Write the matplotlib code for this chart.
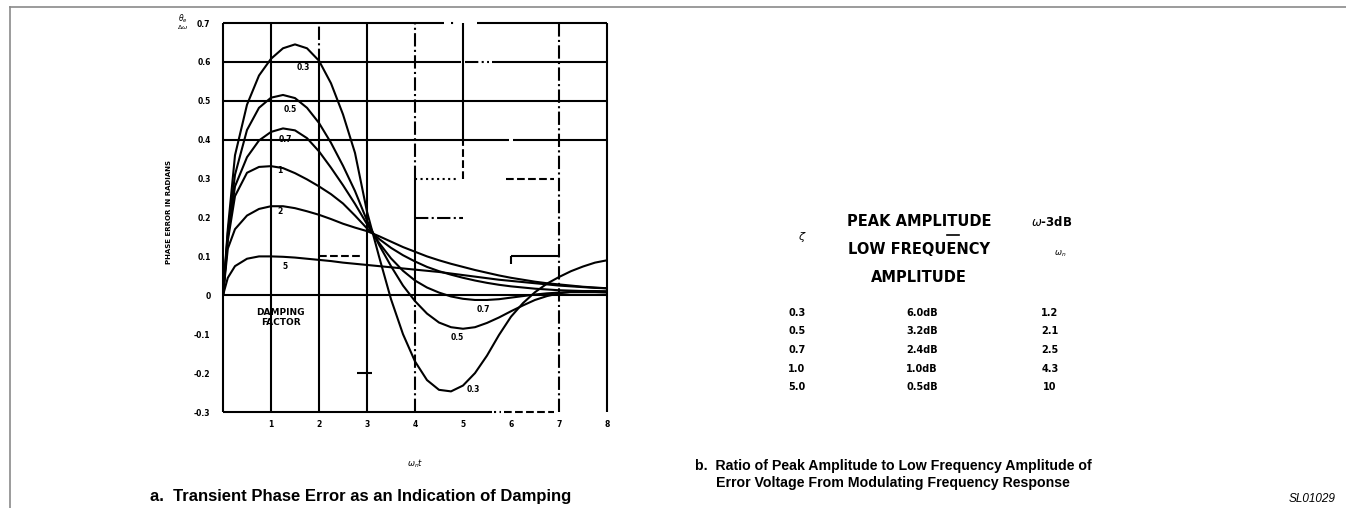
import matplotlib
matplotlib.use("Agg")
import matplotlib.pyplot as plt
from matplotlib.lines import Line2D

# ---------------- data ----------------
wnt = [0, 0.1, 0.25, 0.5, 0.75, 1.0, 1.25, 1.5, 1.75, 2.0, 2.25, 2.5, 2.75, 3.0,
       3.25, 3.5, 3.75, 4.0, 4.25, 4.5, 4.75, 5.0, 5.25, 5.5, 5.75, 6.0, 6.25,
       6.5, 6.75, 7.0, 7.25, 7.5, 7.75, 8.0]

err_z03 = [0, 0.17, 0.36, 0.49, 0.565, 0.608, 0.635, 0.645, 0.635, 0.603, 0.545,
           0.465, 0.366, 0.215, 0.10, -0.01, -0.10, -0.17, -0.218, -0.243, -0.247,
           -0.232, -0.20, -0.155, -0.102, -0.055, -0.02, 0.008, 0.03, 0.047, 0.062,
           0.074, 0.084, 0.09]
err_z05 = [0, 0.16, 0.31, 0.425, 0.482, 0.508, 0.515, 0.507, 0.482, 0.443, 0.392,
           0.333, 0.268, 0.192, 0.13, 0.075, 0.025, -0.015, -0.047, -0.07, -0.082,
           -0.086, -0.082, -0.071, -0.057, -0.041, -0.026, -0.012, -0.002, 0.005,
           0.009, 0.011, 0.011, 0.01]
err_z07 = [0, 0.15, 0.28, 0.355, 0.398, 0.42, 0.429, 0.424, 0.404, 0.37, 0.328,
           0.283, 0.235, 0.183, 0.135, 0.095, 0.063, 0.038, 0.02, 0.007, -0.003,
           -0.009, -0.012, -0.012, -0.01, -0.006, -0.002, 0.002, 0.005, 0.007,
           0.008, 0.008, 0.008, 0.007]
err_z10 = [0, 0.14, 0.255, 0.315, 0.33, 0.332, 0.327, 0.314, 0.298, 0.28, 0.26,
           0.236, 0.205, 0.172, 0.145, 0.122, 0.103, 0.087, 0.073, 0.062, 0.053,
           0.045, 0.038, 0.032, 0.027, 0.023, 0.02, 0.017, 0.015, 0.013, 0.012,
           0.011, 0.01, 0.01]
err_z20 = [0, 0.12, 0.17, 0.205, 0.222, 0.229, 0.229, 0.224, 0.216, 0.207, 0.196,
           0.184, 0.174, 0.165, 0.152, 0.138, 0.124, 0.112, 0.10, 0.09, 0.081,
           0.073, 0.065, 0.058, 0.051, 0.045, 0.04, 0.035, 0.031, 0.028, 0.025,
           0.022, 0.02, 0.018]
err_z50 = [0, 0.045, 0.075, 0.094, 0.10, 0.10, 0.099, 0.097, 0.094, 0.091, 0.088,
           0.084, 0.081, 0.078, 0.075, 0.072, 0.069, 0.066, 0.063, 0.06, 0.056,
           0.052, 0.048, 0.044, 0.04, 0.037, 0.034, 0.031, 0.028, 0.025, 0.023,
           0.021, 0.019, 0.018]

x_ticks = [1, 2, 3, 4, 5, 6, 7, 8]
x_tick_labels = ["1", "2", "3", "4", "5", "6", "7", "8"]
y_ticks = [0.7, 0.6, 0.5, 0.4, 0.3, 0.2, 0.1, 0.0, -0.1, -0.2, -0.3]
y_tick_labels = ["0.7", "0.6", "0.5", "0.4", "0.3", "0.2", "0.1", "0", "-0.1", "-0.2", "-0.3"]

table_zeta = ["0.3", "0.5", "0.7", "1.0", "5.0"]
table_peak = ["6.0dB", "3.2dB", "2.4dB", "1.0dB", "0.5dB"]
table_bw = ["1.2", "2.1", "2.5", "4.3", "10"]

# ---------------- figure ----------------
W, H = 1346, 508
fig = plt.figure(figsize=(W / 100, H / 100), dpi=100)
fig.patch.set_facecolor("white")

# outer frame lines (top and left)
fig.add_artist(Line2D([10 / W, 1.0], [1 - 7 / H, 1 - 7 / H], color="#8a8a8a", lw=1.2))
fig.add_artist(Line2D([10 / W, 10 / W], [0, 1 - 7 / H], color="#8a8a8a", lw=1.2))

ax = fig.add_axes([223 / W, 1 - 412 / H, 384 / W, 389 / H])
ax.set_xlim(0, 8)
ax.set_ylim(-0.3, 0.7)
for s in ax.spines.values():
    s.set_visible(False)

# grid (as in the scanned original, some rulings are broken)
glw = 1.5
hsegs = [(0.7, 0, 4.6, "-"), (0.7, 5.3, 8, "-"), (0.7, 4.75, 4.85, ":"),
         (0.6, 0, 4.95, "-"), (0.6, 5.05, 5.55, "-."), (0.6, 5.6, 8, "-"),
         (0.5, 0, 8, "-"),
         (0.4, 0, 5.95, "-"), (0.4, 6.05, 8, "-"),
         (0.3, 4.0, 4.9, ":"), (0.3, 5.9, 6.9, "--"),
         (0.2, 4.0, 5.0, "-."),
         (0.1, 2.0, 2.9, "--"), (0.1, 6.0, 7.0, "-"),
         (0.0, 0, 8, "-"),
         (-0.2, 2.8, 3.1, "-"),
         (-0.3, 0, 5.6, "-"), (-0.3, 5.65, 5.8, ":"), (-0.3, 5.85, 6.9, "--")]
vsegs = [(0, -0.3, 0.7, "-"), (1, -0.3, 0.7, "-"), (2, -0.3, 0.6, "-"),
         (2, 0.6, 0.7, "-."), (3, -0.3, 0.7, "-"),
         (4, 0.3, 0.7, "-."), (4, 0.0, 0.3, "-"), (4, -0.3, 0.0, "-."),
         (5, 0.4, 0.7, "-"), (5, 0.3, 0.4, "--"),
         (6, 0.08, 0.1, "-"),
         (7, -0.3, 0.7, "-."), (8, -0.3, 0.7, "-")]
for y, a, b, ls in hsegs:
    ax.hlines(y, a, b, colors="black", lw=glw, linestyles=ls, clip_on=False, zorder=1)
for x, a, b, ls in vsegs:
    ax.vlines(x, a, b, colors="black", lw=glw, linestyles=ls, clip_on=False, zorder=1)

# curves
for ys in [err_z03, err_z05, err_z07, err_z10, err_z20, err_z50]:
    ax.plot(wnt, ys, color="black", lw=1.5, zorder=3, solid_joinstyle="round")

# ticks
ax.set_xticks(x_ticks)
ax.set_xticklabels(x_tick_labels, fontsize=5.5, fontweight="bold")
ax.set_yticks(y_ticks)
ax.set_yticklabels(y_tick_labels, fontsize=5.5, fontweight="bold")
ax.tick_params(axis="x", length=0, pad=6)
ax.tick_params(axis="y", length=0, pad=9)

# curve labels
lab = dict(fontsize=5.5, fontweight="bold", ha="center", va="center", zorder=4)
ax.text(1.67, 0.585, "0.3", **lab)
ax.text(1.40, 0.477, "0.5", **lab)
ax.text(1.30, 0.400, "0.7", **lab)
ax.text(1.19, 0.320, "1", **lab)
ax.text(1.19, 0.215, "2", **lab)
ax.text(1.30, 0.075, "5", **lab)
ax.text(5.42, -0.036, "0.7", **lab)
ax.text(4.87, -0.108, "0.5", **lab)
ax.text(5.22, -0.242, "0.3", **lab)
ax.text(1.2, -0.057, "DAMPING\nFACTOR", fontsize=6.5, fontweight="bold",
        ha="center", va="center", linespacing=1.1, zorder=4)

# axis labels
fig.text(169 / W, 1 - 212 / H, "PHASE ERROR IN RADIANS", rotation=90, fontsize=5,
         fontweight="bold", ha="center", va="center")
fig.text(183 / W, 1 - 19 / H, r"$\theta_e$", fontsize=5.5, ha="center", va="center")
fig.text(183 / W, 1 - 27 / H, r"$\Delta\omega$", fontsize=4.5, ha="center", va="center")
fig.text(415 / W, 1 - 464 / H, r"$\omega_n t$", fontsize=6, ha="center", va="center")

# captions
fig.text(150 / W, 1 - 497 / H, "a.  Transient Phase Error as an Indication of Damping",
         fontsize=12, fontweight="bold", family="Liberation Sans", ha="left", va="center")
fig.text(695 / W, 1 - 466 / H, "b.  Ratio of Peak Amplitude to Low Frequency Amplitude of",
         fontsize=10.2, fontweight="bold", family="Liberation Sans", ha="left", va="center")
fig.text(716 / W, 1 - 483 / H, "Error Voltage From Modulating Frequency Response",
         fontsize=10.2, fontweight="bold", family="Liberation Sans", ha="left", va="center")
fig.text(1336 / W, 1 - 499 / H, "SL01029", fontsize=8.5, style="italic",
         family="Liberation Sans", ha="right", va="center")

# table b
hdr = dict(fontsize=10.5, fontweight="bold", ha="center", va="center")
fig.text(919 / W, 1 - 222 / H, "PEAK AMPLITUDE", **hdr)
fig.add_artist(Line2D([947 / W, 959 / W], [1 - 235 / H, 1 - 235 / H], color="black", lw=1.2))
fig.text(919 / W, 1 - 250 / H, "LOW FREQUENCY", **hdr)
fig.text(919 / W, 1 - 278 / H, "AMPLITUDE", **hdr)
fig.text(1052 / W, 1 - 222 / H, r"$\omega$-3dB", fontsize=8.5, fontweight="bold",
         ha="center", va="center")
fig.text(1060 / W, 1 - 254 / H, r"$\omega_n$", fontsize=6, ha="center", va="center")
fig.text(802 / W, 1 - 237 / H, r"$\zeta$", fontsize=8, ha="center", va="center")
row_y = [313, 331, 350, 369, 387]
cell = dict(fontsize=7, fontweight="bold", ha="center", va="center")
for yy, a, b, c in zip(row_y, table_zeta, table_peak, table_bw):
    fig.text(797 / W, 1 - yy / H, a, **cell)
    fig.text(922 / W, 1 - yy / H, b, **cell)
    fig.text(1050 / W, 1 - yy / H, c, **cell)

fig.savefig("out.png", dpi=100, facecolor="white")
